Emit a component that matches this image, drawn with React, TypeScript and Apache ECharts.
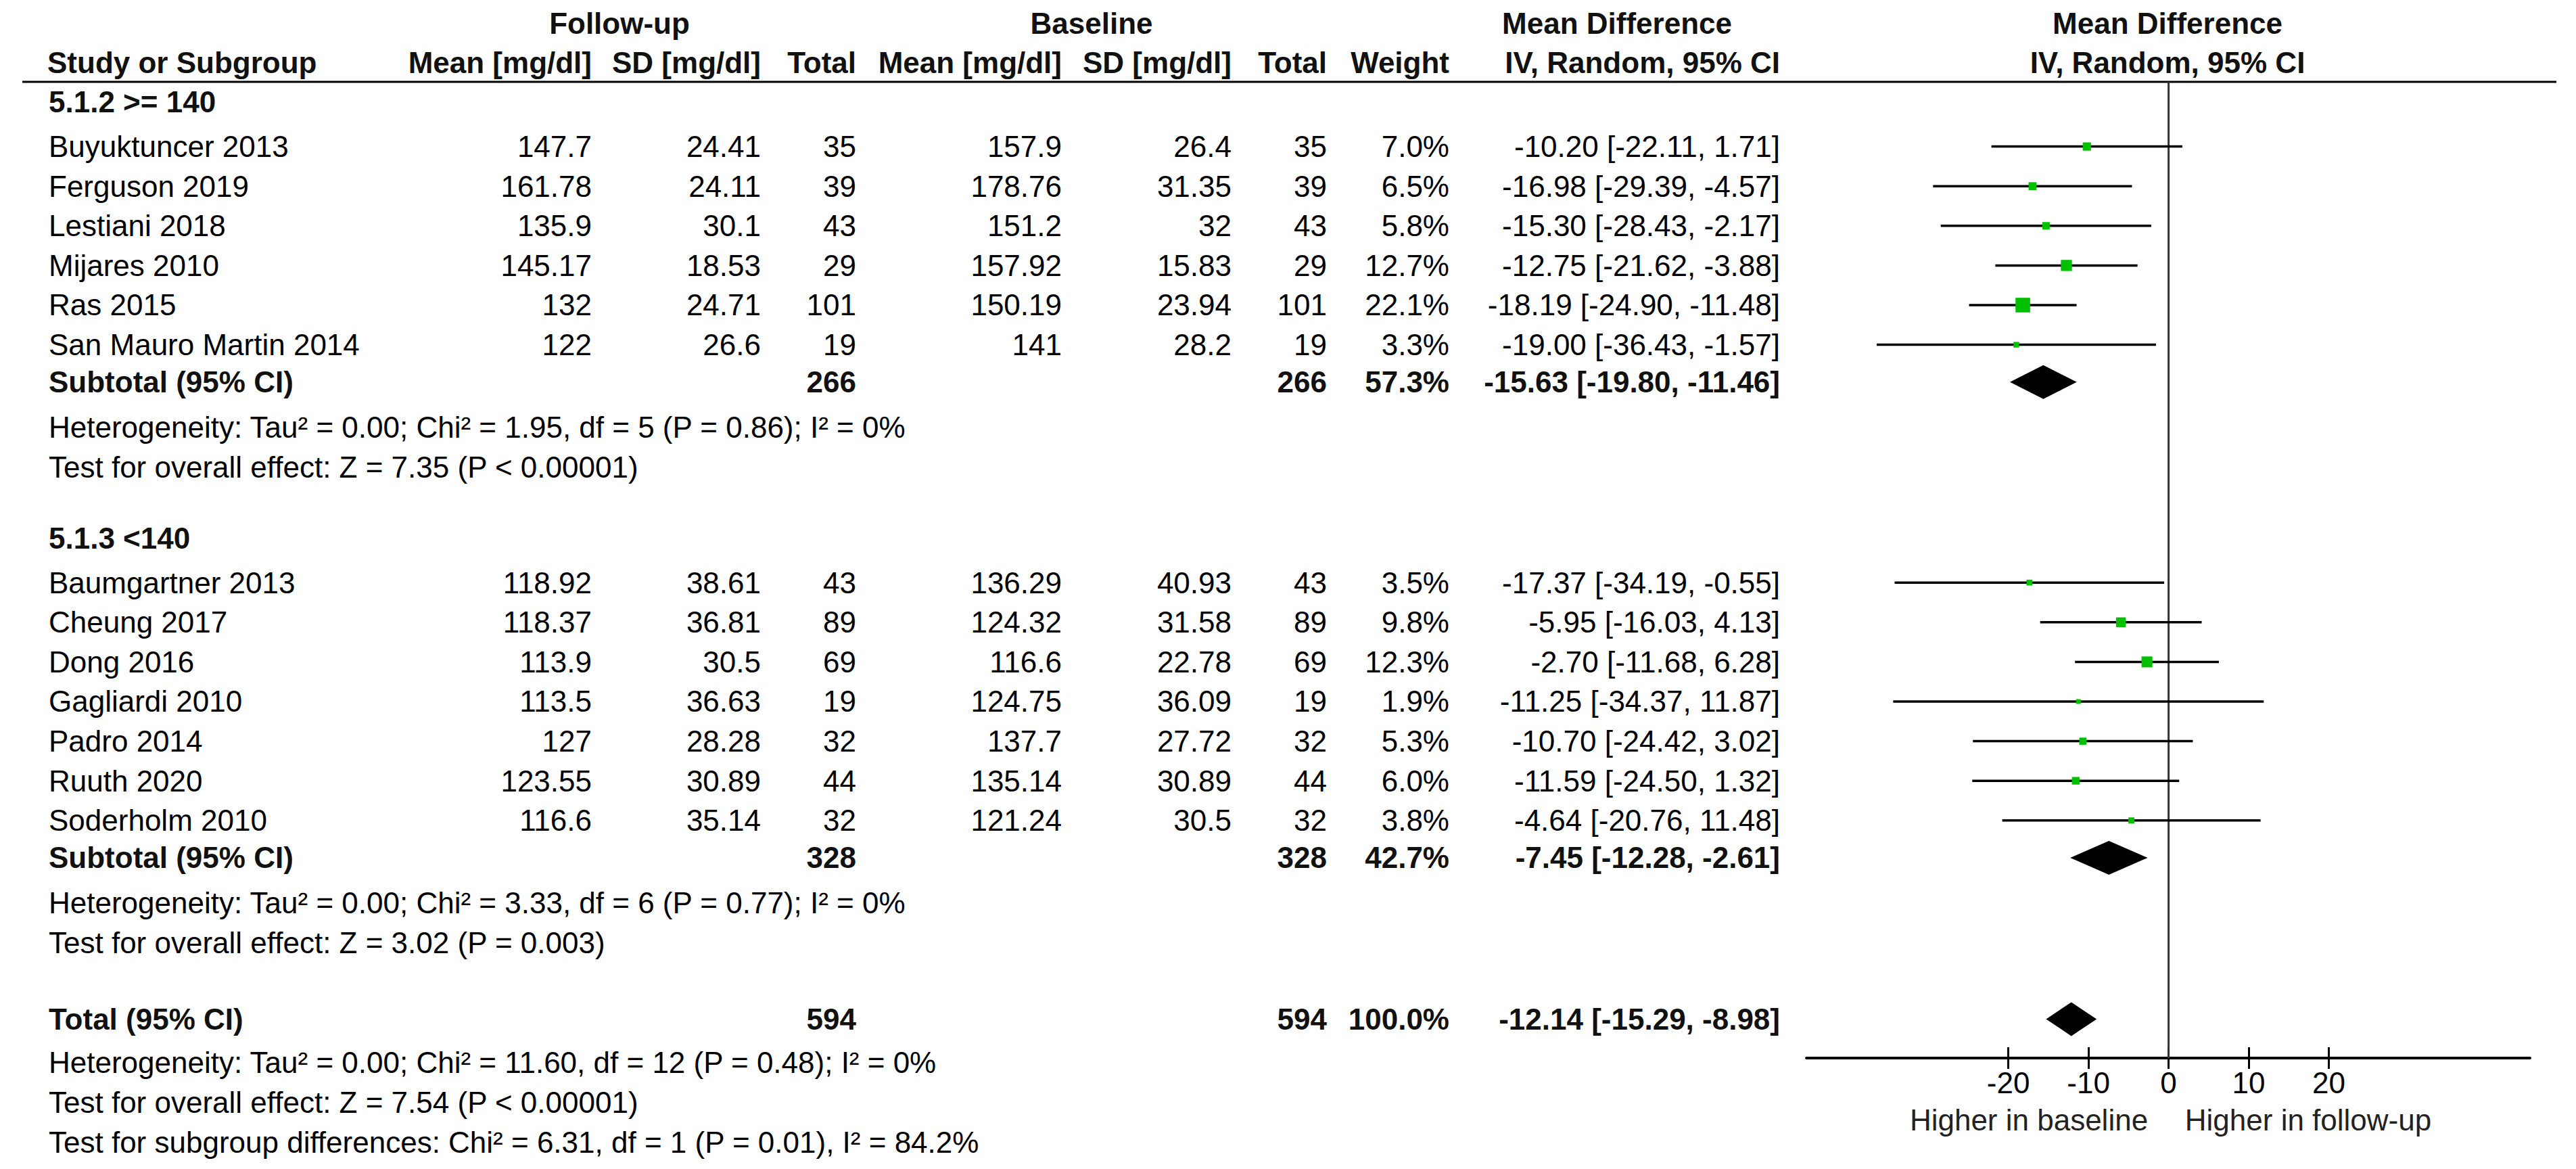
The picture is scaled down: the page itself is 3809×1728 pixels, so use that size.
import React, { useEffect, useRef } from "react";
import * as echarts from "echarts";

// ---------------- DATA ----------------
const groupNames = ["5.1.2 >= 140", "5.1.3 <140"];
const studies = [
  "Buyuktuncer 2013", "Ferguson 2019", "Lestiani 2018", "Mijares 2010", "Ras 2015", "San Mauro Martin 2014",
  "Baumgartner 2013", "Cheung 2017", "Dong 2016", "Gagliardi 2010", "Padro 2014", "Ruuth 2020", "Soderholm 2010",
];
const studyGroup = [0, 0, 0, 0, 0, 0, 1, 1, 1, 1, 1, 1, 1];
const fuMean = [147.7, 161.78, 135.9, 145.17, 132, 122, 118.92, 118.37, 113.9, 113.5, 127, 123.55, 116.6];
const fuSD = [24.41, 24.11, 30.1, 18.53, 24.71, 26.6, 38.61, 36.81, 30.5, 36.63, 28.28, 30.89, 35.14];
const fuN = [35, 39, 43, 29, 101, 19, 43, 89, 69, 19, 32, 44, 32];
const blMean = [157.9, 178.76, 151.2, 157.92, 150.19, 141, 136.29, 124.32, 116.6, 124.75, 137.7, 135.14, 121.24];
const blSD = [26.4, 31.35, 32, 15.83, 23.94, 28.2, 40.93, 31.58, 22.78, 36.09, 27.72, 30.89, 30.5];
const blN = [35, 39, 43, 29, 101, 19, 43, 89, 69, 19, 32, 44, 32];
const weights = [7.0, 6.5, 5.8, 12.7, 22.1, 3.3, 3.5, 9.8, 12.3, 1.9, 5.3, 6.0, 3.8];
const md = [-10.2, -16.98, -15.3, -12.75, -18.19, -19.0, -17.37, -5.95, -2.7, -11.25, -10.7, -11.59, -4.64];
const ciLo = [-22.11, -29.39, -28.43, -21.62, -24.9, -36.43, -34.19, -16.03, -11.68, -34.37, -24.42, -24.5, -20.76];
const ciHi = [1.71, -4.57, -2.17, -3.88, -11.48, -1.57, -0.55, 4.13, 6.28, 11.87, 3.02, 1.32, 11.48];

const subN = [266, 328];
const subWeight = [57.3, 42.7];
const subMd = [-15.63, -7.45];
const subLo = [-19.8, -12.28];
const subHi = [-11.46, -2.61];
const subHet = [
  "Heterogeneity: Tau² = 0.00; Chi² = 1.95, df = 5 (P = 0.86); I² = 0%",
  "Heterogeneity: Tau² = 0.00; Chi² = 3.33, df = 6 (P = 0.77); I² = 0%",
];
const subTest = ["Test for overall effect: Z = 7.35 (P < 0.00001)", "Test for overall effect: Z = 3.02 (P = 0.003)"];

const totalN = 594;
const totalWeight = 100.0;
const totalMd = -12.14;
const totalLo = -15.29;
const totalHi = -8.98;
const totalNotes = [
  "Heterogeneity: Tau² = 0.00; Chi² = 11.60, df = 12 (P = 0.48); I² = 0%",
  "Test for overall effect: Z = 7.54 (P < 0.00001)",
  "Test for subgroup differences: Chi² = 6.31, df = 1 (P = 0.01), I² = 84.2%",
];

const tickValues = [-20, -10, 0, 10, 20];
const axisMin = -45.2;
const axisMax = 45.1;
const favourLabels = ["Higher in baseline", "Higher in follow-up"];

// ---------------- LAYOUT ----------------
const W = 3809;
const H = 1728;
const FONT = "'Liberation Sans', Arial, Helvetica, sans-serif";
const FS = 44;
const COL = {
  name: 72, fuMean: 875, fuSD: 1125, fuN: 1266, blMean: 1570, blSD: 1821, blN: 1962, weight: 2143, ci: 2632,
};
const GRID = { left: 2671, top: 121, width: 1070, height: 1443 };
const Y_MIN = -0.621;
const Y_MAX = 24.003;

type Cell = { x: number; text: string; align: "left" | "right" | "center"; bold?: boolean };
type Line = { row: number; cells: Cell[] };

const fmtCI = (m: number, l: number, h: number) => `${m.toFixed(2)} [${l.toFixed(2)}, ${h.toFixed(2)}]`;

const lines: Line[] = [];
const studyRows: number[] = [];
const subRows: number[] = [];
let r = -0.11;
groupNames.forEach((g, gi) => {
  lines.push({ row: r, cells: [{ x: COL.name, text: g, align: "left", bold: true }] });
  r += 1.12;
  studies.forEach((s, i) => {
    if (studyGroup[i] !== gi) return;
    studyRows[i] = r;
    lines.push({
      row: r,
      cells: [
        { x: COL.name, text: s, align: "left" },
        { x: COL.fuMean, text: String(fuMean[i]), align: "right" },
        { x: COL.fuSD, text: String(fuSD[i]), align: "right" },
        { x: COL.fuN, text: String(fuN[i]), align: "right" },
        { x: COL.blMean, text: String(blMean[i]), align: "right" },
        { x: COL.blSD, text: String(blSD[i]), align: "right" },
        { x: COL.blN, text: String(blN[i]), align: "right" },
        { x: COL.weight, text: weights[i].toFixed(1) + "%", align: "right" },
        { x: COL.ci, text: fmtCI(md[i], ciLo[i], ciHi[i]), align: "right" },
      ],
    });
    r += 1;
  });
  r -= 0.06;
  subRows[gi] = r;
  lines.push({
    row: r,
    cells: [
      { x: COL.name, text: "Subtotal (95% CI)", align: "left", bold: true },
      { x: COL.fuN, text: String(subN[gi]), align: "right", bold: true },
      { x: COL.blN, text: String(subN[gi]), align: "right", bold: true },
      { x: COL.weight, text: subWeight[gi].toFixed(1) + "%", align: "right", bold: true },
      { x: COL.ci, text: fmtCI(subMd[gi], subLo[gi], subHi[gi]), align: "right", bold: true },
    ],
  });
  r += 1.14;
  lines.push({ row: r, cells: [{ x: COL.name, text: subHet[gi], align: "left" }] });
  r += 1.0;
  lines.push({ row: r, cells: [{ x: COL.name, text: subTest[gi], align: "left" }] });
  r += 1.8;
});
r += 0.13;
const totalRow = r;
lines.push({
  row: r,
  cells: [
    { x: COL.name, text: "Total (95% CI)", align: "left", bold: true },
    { x: COL.fuN, text: String(totalN), align: "right", bold: true },
    { x: COL.blN, text: String(totalN), align: "right", bold: true },
    { x: COL.weight, text: totalWeight.toFixed(1) + "%", align: "right", bold: true },
    { x: COL.ci, text: fmtCI(totalMd, totalLo, totalHi), align: "right", bold: true },
  ],
});
r += 1.1;
totalNotes.forEach((t) => {
  lines.push({ row: r, cells: [{ x: COL.name, text: t, align: "left" }] });
  r += 1.0;
});

const headerTexts = [
  { x: 916, y: 34, text: "Follow-up", align: "center" },
  { x: 1614, y: 34, text: "Baseline", align: "center" },
  { x: 2391, y: 34, text: "Mean Difference", align: "center" },
  { x: 3205, y: 34, text: "Mean Difference", align: "center" },
  { x: 70, y: 92, text: "Study or Subgroup", align: "left" },
  { x: COL.fuMean, y: 92, text: "Mean [mg/dl]", align: "right" },
  { x: COL.fuSD, y: 92, text: "SD [mg/dl]", align: "right" },
  { x: COL.fuN, y: 92, text: "Total", align: "right" },
  { x: COL.blMean, y: 92, text: "Mean [mg/dl]", align: "right" },
  { x: COL.blSD, y: 92, text: "SD [mg/dl]", align: "right" },
  { x: COL.blN, y: 92, text: "Total", align: "right" },
  { x: COL.weight, y: 92, text: "Weight", align: "right" },
  { x: COL.ci, y: 92, text: "IV, Random, 95% CI", align: "right" },
  { x: 3205, y: 92, text: "IV, Random, 95% CI", align: "center" },
];

export default function App() {
  const ref = useRef<HTMLDivElement>(null);
  useEffect(() => {
    const chart = echarts.init(ref.current!, null, { renderer: "svg" });

    const studyData = studies.map((_, i) => [md[i], studyRows[i], ciLo[i], ciHi[i], weights[i]]);
    const diamondData = [
      [subMd[0], subRows[0], subLo[0], subHi[0]],
      [subMd[1], subRows[1], subLo[1], subHi[1]],
      [totalMd, totalRow, totalLo, totalHi],
    ];
    const textData = lines.map((l, i) => [0, l.row, i]);

    const option: any = {
      animation: false,
      backgroundColor: "#fff",
      grid: { ...GRID, containLabel: false },
      xAxis: [
        {
          type: "value", min: axisMin, max: axisMax, position: "bottom",
          axisLine: { show: true, onZero: false, lineStyle: { color: "#000", width: 4 } },
          axisTick: { show: true, inside: true, length: 16, customValues: tickValues, lineStyle: { color: "#000", width: 3 } },
          axisLabel: { show: false },
          splitLine: { show: false },
        },
        {
          type: "value", min: axisMin, max: axisMax, position: "bottom", offset: 0,
          axisLine: { show: false, onZero: false },
          axisTick: { show: true, inside: false, length: 16, customValues: tickValues, lineStyle: { color: "#000", width: 3 } },
          axisLabel: { show: true, customValues: tickValues, margin: 14, fontSize: FS, color: "#000", fontFamily: FONT },
          splitLine: { show: false },
        },
      ],
      yAxis: {
        type: "value", min: Y_MIN, max: Y_MAX, inverse: true,
        axisLine: { show: false }, axisTick: { show: false }, axisLabel: { show: false }, splitLine: { show: false },
      },
      graphic: [
        { type: "line", shape: { x1: 33, y1: 121, x2: 3780, y2: 121 }, style: { stroke: "#000", lineWidth: 3 } },
        ...headerTexts.map((h) => ({
          type: "text", x: h.x, y: h.y,
          style: { text: h.text, fill: "#111", fontSize: FS, fontFamily: FONT, fontWeight: "bold", align: h.align, verticalAlign: "middle" },
        })),
        {
          type: "text", x: 3000, y: 1655,
          style: { text: favourLabels[0], fill: "#222", fontSize: FS, fontFamily: FONT, align: "center", verticalAlign: "middle" },
        },
        {
          type: "text", x: 3413, y: 1655,
          style: { text: favourLabels[1], fill: "#222", fontSize: FS, fontFamily: FONT, align: "center", verticalAlign: "middle" },
        },
      ],
      series: [
        {
          type: "line", name: "zero", silent: true, symbol: "none",
          data: [[0, Y_MIN], [0, Y_MAX]],
          lineStyle: { color: "#333", width: 3 },
          z: 1,
        },
        {
          type: "custom", name: "table", silent: true,
          encode: { x: 0, y: 1 },
          data: textData,
          renderItem: (params: any, api: any) => {
            const idx = api.value(2);
            const y = api.coord([0, api.value(1)])[1];
            const line = lines[idx];
            return {
              type: "group",
              children: line.cells.map((c) => ({
                type: "text", x: c.x, y,
                style: {
                  text: c.text, fill: c.bold ? "#111" : "#000", fontSize: FS, fontFamily: FONT,
                  fontWeight: c.bold ? "bold" : "normal", align: c.align, verticalAlign: "middle",
                },
              })),
            };
          },
          z: 3,
        },
        {
          type: "custom", name: "studies", silent: true,
          encode: { x: 0, y: 1 },
          data: studyData,
          renderItem: (params: any, api: any) => {
            const m = api.coord([api.value(0), api.value(1)]);
            const l = api.coord([api.value(2), api.value(1)]);
            const h = api.coord([api.value(3), api.value(1)]);
            const side = Math.max(7, 4.6 * Math.sqrt(api.value(4)));
            return {
              type: "group",
              children: [
                { type: "line", shape: { x1: l[0], y1: l[1], x2: h[0], y2: h[1] }, style: { stroke: "#000", lineWidth: 3.5 } },
                { type: "rect", shape: { x: m[0] - side / 2, y: m[1] - side / 2, width: side, height: side }, style: { fill: "#00c000" } },
              ],
            };
          },
          z: 4,
        },
        {
          type: "custom", name: "diamonds", silent: true,
          encode: { x: 0, y: 1 },
          data: diamondData,
          renderItem: (params: any, api: any) => {
            const m = api.coord([api.value(0), api.value(1)]);
            const l = api.coord([api.value(2), api.value(1)]);
            const h = api.coord([api.value(3), api.value(1)]);
            const hh = 25;
            return {
              type: "polygon",
              shape: { points: [[l[0], m[1]], [m[0], m[1] - hh], [h[0], m[1]], [m[0], m[1] + hh]] },
              style: { fill: "#000" },
            };
          },
          z: 4,
        },
      ],
    };
    chart.setOption(option);
    return () => chart.dispose();
  }, []);
  return <div ref={ref} style={{ position: "absolute", left: 0, top: 0, width: W, height: H, background: "#fff" }} />;
}
